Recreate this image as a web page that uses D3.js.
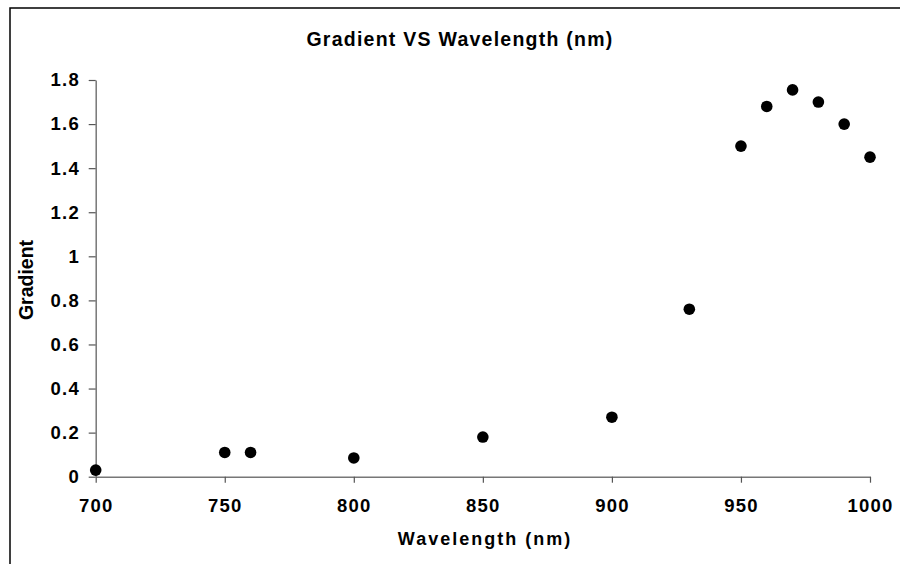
<!DOCTYPE html>
<html><head><meta charset="utf-8">
<script src="https://cdn.jsdelivr.net/npm/d3@7"></script>
<style>body{margin:0;background:#fff}svg{display:block}text{font-family:"Liberation Sans",Arial,sans-serif;font-weight:bold;fill:#000}</style>
</head><body>
<script>
const wavelengths = [700, 750, 760, 800, 850, 900, 930, 950, 960, 970, 980, 990, 1000];
const gradients   = [0.03, 0.11, 0.11, 0.085, 0.18, 0.27, 0.76, 1.50, 1.68, 1.755, 1.70, 1.60, 1.45];
const xTicks = [700, 750, 800, 850, 900, 950, 1000];
const yTicks = [0, 0.2, 0.4, 0.6, 0.8, 1, 1.2, 1.4, 1.6, 1.8];
const title = "Gradient VS Wavelength (nm)";
const xTitle = "Wavelength (nm)";
const yTitle = "Gradient";

const W = 900, H = 564;
const svg = d3.select("body").append("svg").attr("width", W).attr("height", H);

// outer frame
svg.append("rect").attr("x", 10).attr("y", 8).attr("width", 900).attr("height", 600)
  .attr("fill", "none").attr("stroke", "#000").attr("stroke-width", 1.5);

const x = d3.scaleLinear().domain([700, 1000]).range([95.7, 870]);
const y = d3.scaleLinear().domain([0, 1.8]).range([476.7, 80]);

const xAxis = svg.append("g").attr("transform", `translate(0,${y(0)})`)
  .call(d3.axisBottom(x).tickValues(xTicks).tickSize(6).tickSizeOuter(0).tickPadding(16.5).tickFormat(d3.format("d")));
const yAxis = svg.append("g").attr("transform", `translate(${x(700)},0)`)
  .call(d3.axisLeft(y).tickValues(yTicks).tickSize(7).tickSizeOuter(0).tickPadding(10).tickFormat(d => String(d)));

[xAxis, yAxis].forEach(g => {
  g.select(".domain").attr("stroke", "#777").attr("stroke-width", 1.5);
  g.selectAll(".tick line").attr("stroke", "#555").attr("stroke-width", 1.2);
  g.selectAll(".tick text").style("font-size", "18.5px").style("letter-spacing", "1.2px")
    .style("font-family", '"Liberation Sans",Arial,sans-serif').style("font-weight", "bold").attr("fill", "#000");
});
yAxis.selectAll(".tick text").attr("dx", "1.2px");

svg.append("text").attr("x", 460).attr("y", 45.7).attr("text-anchor", "middle")
  .style("font-size", "19.5px").style("letter-spacing", "1.25px").text(title);
svg.append("text").attr("x", 485).attr("y", 545).attr("text-anchor", "middle")
  .style("font-size", "18px").style("letter-spacing", "2px").text(xTitle);
svg.append("text").attr("transform", "translate(33,280) rotate(-90)").attr("text-anchor", "middle")
  .style("font-size", "19.5px").text(yTitle);

svg.append("g").selectAll("circle").data(wavelengths).join("circle")
  .attr("cx", d => x(d)).attr("cy", (d, i) => y(gradients[i])).attr("r", 5.8).attr("fill", "#000");
</script>
</body></html>
